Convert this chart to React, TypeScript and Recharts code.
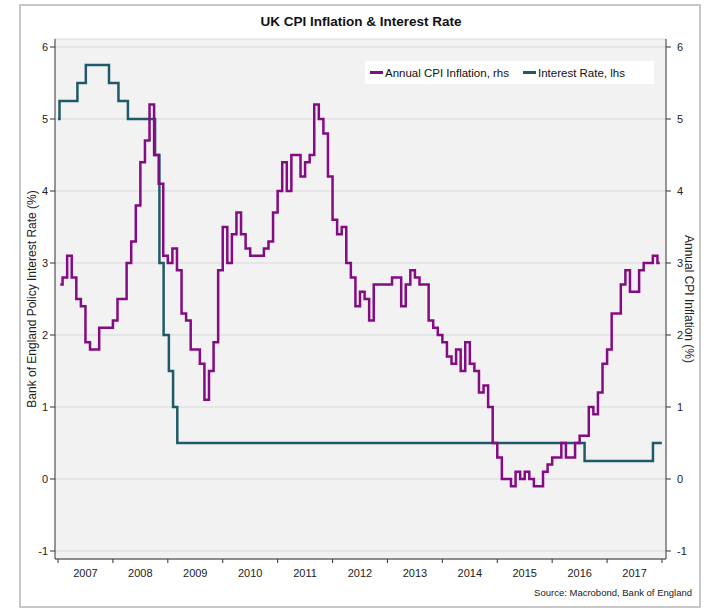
import React from 'react';
import { LineChart, Line, XAxis, YAxis, CartesianGrid, Legend } from 'recharts';

// UK CPI, annual % change, monthly from Jan 2007
const CPI_START_YEAR = 2007;
const CPI_VALUES = [
  2.7, 2.8, 3.1, 2.8, 2.5, 2.4, 1.9, 1.8, 1.8, 2.1, 2.1, 2.1, // 2007
  2.2, 2.5, 2.5, 3.0, 3.3, 3.8, 4.4, 4.7, 5.2, 4.5, 4.1, 3.1, // 2008
  3.0, 3.2, 2.9, 2.3, 2.2, 1.8, 1.8, 1.6, 1.1, 1.5, 1.9, 2.9, // 2009
  3.5, 3.0, 3.4, 3.7, 3.4, 3.2, 3.1, 3.1, 3.1, 3.2, 3.3, 3.7, // 2010
  4.0, 4.4, 4.0, 4.5, 4.5, 4.2, 4.4, 4.5, 5.2, 5.0, 4.8, 4.2, // 2011
  3.6, 3.4, 3.5, 3.0, 2.8, 2.4, 2.6, 2.5, 2.2, 2.7, 2.7, 2.7, // 2012
  2.7, 2.8, 2.8, 2.4, 2.7, 2.9, 2.8, 2.7, 2.7, 2.2, 2.1, 2.0, // 2013
  1.9, 1.7, 1.6, 1.8, 1.5, 1.9, 1.6, 1.5, 1.2, 1.3, 1.0, 0.5, // 2014
  0.3, 0.0, 0.0, -0.1, 0.1, 0.0, 0.1, 0.0, -0.1, -0.1, 0.1, 0.2, // 2015
  0.3, 0.3, 0.5, 0.3, 0.3, 0.5, 0.6, 0.6, 1.0, 0.9, 1.2, 1.6, // 2016
  1.8, 2.3, 2.3, 2.7, 2.9, 2.6, 2.6, 2.9, 3.0, 3.0, 3.1, 3.0, // 2017
];

// Bank Rate, dates it took effect
const RATE_DATES = [
  '2007-01-01', '2007-01-11', '2007-05-10', '2007-07-05', '2007-12-06',
  '2008-02-07', '2008-04-10', '2008-10-08', '2008-11-06', '2008-12-04',
  '2009-01-08', '2009-02-05', '2009-03-05', '2016-08-04', '2017-11-02',
  '2017-12-31',
];
const RATE_VALUES = [
  5.0, 5.25, 5.5, 5.75, 5.5,
  5.25, 5.0, 4.5, 3.0, 2.0,
  1.5, 1.0, 0.5, 0.25, 0.5,
  0.5,
];

const YEAR_TICKS = [2007, 2008, 2009, 2010, 2011, 2012, 2013, 2014, 2015, 2016, 2017, 2018];
const Y_TICKS = [-1, 0, 1, 2, 3, 4, 5, 6];

const CPI_NAME = 'Annual CPI Inflation, rhs';
const RATE_NAME = 'Interest Rate, lhs';
const CPI_COLOR = '#850b85';
const RATE_COLOR = '#1f5a6a';

const fracYear = (s: string) => {
  const [y, m, d] = s.split('-').map(Number);
  const start = Date.UTC(y, 0, 1);
  return y + (Date.UTC(y, m - 1, d) - start) / (Date.UTC(y + 1, 0, 1) - start);
};

const cpiData = CPI_VALUES.map((v, i) => ({
  x: CPI_START_YEAR + Math.floor(i / 12) + ((i % 12) + 0.5) / 12,
  cpi: v,
}));
const rateData = RATE_DATES.map((d, i) => ({ x: fracYear(d), rate: RATE_VALUES[i] }));

const W = 711;
const H = 610;
const LEFT_W = 55;
const RIGHT_W = 45;
const X_PAD = { left: 3, right: 4 };
const HALF_YEAR = (W - LEFT_W - RIGHT_W - X_PAD.left - X_PAD.right) / (YEAR_TICKS.length - 1) / 2;

const YearTick = (props: any) => {
  const { x, y, payload } = props;
  if (payload.value >= YEAR_TICKS[YEAR_TICKS.length - 1]) return null;
  return (
    <text x={x + HALF_YEAR} y={y} dy="0.71em" textAnchor="middle" fontSize={11} fill="#222">
      {payload.value}
    </text>
  );
};

const LegendBox = () => (
  <div style={{ background: '#fff', height: 23, display: 'flex', alignItems: 'center', paddingLeft: 5, fontSize: 11.5, color: '#111' }}>
    {[{ name: CPI_NAME, color: CPI_COLOR }, { name: RATE_NAME, color: RATE_COLOR }].map((s, i) => (
      <span key={s.name} style={{ display: 'flex', alignItems: 'center', width: i === 0 ? 153 : undefined }}>
        <span style={{ display: 'inline-block', width: 13, height: 3, background: s.color, marginRight: 2 }} />
        {s.name}
      </span>
    ))}
  </div>
);

export default function App() {
  return (
    <div style={{ position: 'absolute', left: 0, top: 0, width: W, height: H, background: '#fff', fontFamily: '"Liberation Sans", Arial, sans-serif' }}>
      <div style={{ position: 'absolute', left: 19, top: 4, width: 682, height: 604, border: '2px solid #c8c8c8', boxSizing: 'border-box' }} />
      <div style={{ position: 'absolute', left: 0, top: 0 }}>
        <LineChart width={W} height={H} margin={{ top: 39, right: 0, bottom: 21, left: 0 }}>
          <CartesianGrid yAxisId="l" vertical={false} fill="#f2f2f2" stroke="#d9d9d9" />
          <XAxis
            type="number"
            dataKey="x"
            domain={[2007, 2018]}
            ticks={YEAR_TICKS}
            padding={X_PAD}
            allowDataOverflow
            height={30}
            tickSize={4}
            tickMargin={6}
            stroke="#333"
            tick={<YearTick />}
          />
          <YAxis
            yAxisId="l"
            orientation="left"
            width={LEFT_W}
            domain={[-1, 6]}
            ticks={Y_TICKS}
            padding={{ top: 8, bottom: 8 }}
            allowDataOverflow
            tickSize={5}
            tickMargin={2}
            stroke="#333"
            tick={{ fill: '#222', fontSize: 11 }}
          />
          <YAxis
            yAxisId="r"
            orientation="right"
            width={RIGHT_W}
            domain={[-1, 6]}
            ticks={Y_TICKS}
            padding={{ top: 8, bottom: 8 }}
            allowDataOverflow
            tickSize={5}
            tickMargin={6}
            stroke="#333"
            tick={{ fill: '#222', fontSize: 11 }}
          />
          <Line
            yAxisId="l"
            data={rateData}
            dataKey="rate"
            name={RATE_NAME}
            type="stepAfter"
            stroke={RATE_COLOR}
            strokeWidth={2.5}
            dot={false}
            isAnimationActive={false}
          />
          <Line
            yAxisId="r"
            data={cpiData}
            dataKey="cpi"
            name={CPI_NAME}
            type="step"
            stroke={CPI_COLOR}
            strokeWidth={2.5}
            dot={false}
            isAnimationActive={false}
          />
          <Legend
            layout="horizontal"
            verticalAlign="middle"
            align="center"
            wrapperStyle={{ left: 365, top: 61, width: 289, height: 23 }}
            content={() => <LegendBox />}
          />
          <text x={361} y={26} textAnchor="middle" fontWeight="bold" fontSize={13.5} fill="#111">
            UK CPI Inflation &amp; Interest Rate
          </text>
          <text x={33} y={299} transform="rotate(-90 33 299)" textAnchor="middle" dominantBaseline="middle" fontSize={12} fill="#222">
            Bank of England Policy Interest Rate (%)
          </text>
          <text x={688} y={299} transform="rotate(90 688 299)" textAnchor="middle" dominantBaseline="middle" fontSize={12} fill="#222">
            Annual CPI Inflation (%)
          </text>
          <text x={692} y={596} textAnchor="end" fontSize={9.5} fill="#222">
            Source: Macrobond, Bank of England
          </text>
        </LineChart>
      </div>
    </div>
  );
}
